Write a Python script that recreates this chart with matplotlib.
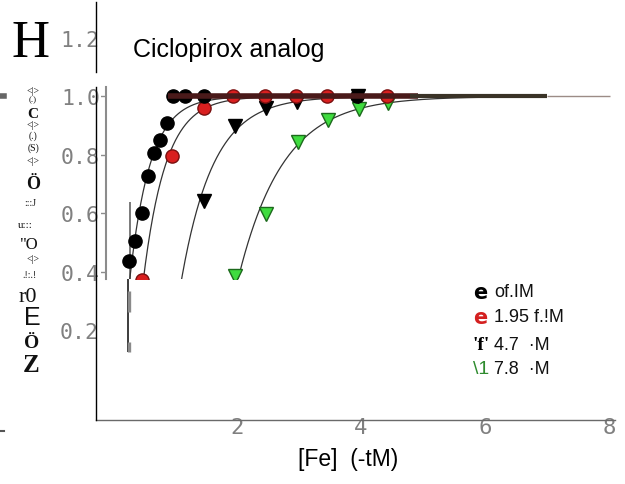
import numpy as np
import matplotlib
matplotlib.use("Agg")
import matplotlib.pyplot as plt
from matplotlib.lines import Line2D

W, H = 625, 485

# ---- data -------------------------------------------------------------
fe_ticks = [2, 4, 6, 8]
fe_tick_labels = ["2", "4", "6", "8"]
upper_ticks = [0.4, 0.6, 0.8, 1.0]
upper_tick_labels = ["0.4", "0.6", "0.8", "1.0"]
lower_ticks = [0.2, 1.2]
lower_tick_labels = ["0.2", "1.2"]

# fraction vs [Fe] for each series
fe0_x = [0.26, 0.35, 0.46, 0.57, 0.66, 0.76, 0.87, 0.96, 1.16, 1.46, 3.93]
fe0_y = [0.436, 0.504, 0.601, 0.729, 0.806, 0.851, 0.909, 1.0, 1.0, 1.0, 1.0]
fe195_x = [0.46, 0.95, 1.46, 1.94, 2.45, 2.95, 3.45, 4.42]
fe195_y = [0.37, 0.795, 0.96, 1.0, 1.0, 1.0, 1.0, 1.0]
fe47_x = [1.47, 1.97, 2.46, 2.96, 3.95]
fe47_y = [0.643, 0.898, 0.96, 0.98, 1.0]
fe178_x = [1.96, 2.47, 2.98, 3.46, 3.96, 4.44]
fe178_y = [0.386, 0.598, 0.843, 0.92, 0.957, 0.978]

# plateau line at 1.0, drawn in three pieces
plateau_level = 1.0
plateau_x = [(0.89, 4.92), (4.79, 7.0), (7.0, 8.02)]
plateau_colors = ["#4a1a1a", "#3a3327", "#9c8c86"]
plateau_widths = [4.0, 3.0, 1.0]

# vertical bars near the first points
vbar_upper_x, vbar_upper_y = 0.274, (0.375, 0.639)
vbar_lower_x, vbar_lower_y = 0.237, (0.124, 0.375)
vbar_thick_x = 0.266
vbar_thick_y = [(0.262, 0.334), (0.125, 0.159)]

legend_rows = [
    ("e", "#000000", "of.IM", 293, "DejaVu Sans", "bold", 15),
    ("e", "#d42020", "1.95 f.!M", 318, "DejaVu Sans", "bold", 15),
    ("'f'", "#000000", "4.7  \u00b7M", 345, "Liberation Serif", "bold", 14),
    ("\\1", "#2e8b2e", "7.8  \u00b7M", 370, "Liberation Sans", "normal", 14),
]

side_glyphs = [
    ("<|>", 33, 91, 7, "normal", "Liberation Serif"),
    ("(.)", 33, 100.5, 6.5, "normal", "Liberation Serif"),
    ("C", 33, 114, 11, "bold", "Liberation Serif"),
    ("<|>", 33, 125, 7, "normal", "Liberation Serif"),
    ("(.)", 33, 136, 7, "normal", "Liberation Serif"),
    ("(S)", 33, 148, 7, "normal", "Liberation Serif"),
    ("<|>", 33, 162, 7, "normal", "Liberation Serif"),
    ("\u00d6", 33, 185, 13, "bold", "Liberation Serif"),
    (":::J", 30, 203, 7, "normal", "Liberation Serif"),
    ("u:::", 25, 226, 8, "normal", "Liberation Serif"),
    ('"O', 29, 245, 12, "normal", "Liberation Serif"),
    ("<|>", 33, 259, 7, "normal", "Liberation Serif"),
    (".!:.!", 29, 276, 7, "normal", "Liberation Serif"),
    ("r0", 28, 297, 16, "normal", "Liberation Serif"),
    ("E", 32, 318, 18, "normal", "Liberation Sans"),
    ("\u00d6", 32, 344, 14, "bold", "Liberation Serif"),
    ("Z", 31, 366, 18, "bold", "Liberation Serif"),
]


def fx(px):
    return px / W


def fy(py):
    return 1 - py / H


def exp_fit(x, y):
    """Least-squares fit of y = 1 - exp(-k (x - x0)) on the sub-plateau points."""
    x = np.asarray(x, float)
    y = np.asarray(y, float)
    m = y < 0.99
    slope, icpt = np.polyfit(x[m], np.log(1 - y[m]), 1)
    x_lo = (np.log(1 - 0.2) - icpt) / slope
    x_hi = (np.log(1 - 0.999) - icpt) / slope
    xs = np.linspace(x_lo, x_hi, 300)
    return xs, 1 - np.exp(slope * xs + icpt)


fig = plt.figure(figsize=(W / 100, H / 100), dpi=100)
fig.patch.set_facecolor("white")

tick_font = dict(family="DejaVu Sans Mono", color="#808080")

# ---- main axes --------------------------------------------------------
ax = fig.add_axes([fx(95.5), fy(421), (615 - 95.5) / W, (421 - 3) / H])
ax.set_xlim(-0.282, 8.097)
ax.set_ylim(-0.108, 1.3236)
ax.set_facecolor("white")
for s in ("top", "right", "left"):
    ax.spines[s].set_visible(False)
ax.spines["bottom"].set_color("#6a6a6a")
ax.spines["bottom"].set_linewidth(1.0)
ax.set_xticks(fe_ticks)
ax.set_xticklabels(fe_tick_labels, fontsize=16, **tick_font)
ax.tick_params(axis="x", length=0, pad=-2.4)
ax.set_yticks(lower_ticks)
ax.set_yticklabels(lower_tick_labels, fontsize=15.5, **tick_font)
ax.tick_params(axis="y", length=0, pad=-2.6)
ax.get_yticklabels()[0].set_bbox(dict(facecolor="white", edgecolor="none", pad=0.5))

# left axis line, drawn in two pieces
fig.add_artist(Line2D([fx(95.5), fx(95.5)], [fy(3), fy(73)], color="black", lw=1.0, zorder=0.5))
fig.add_artist(Line2D([fx(95.5), fx(95.5)], [fy(88), fy(421)], color="black", lw=1.0, zorder=0.5))

ax.vlines(vbar_lower_x, *vbar_lower_y, color="#3c3c3c", lw=1.4)
for y0, y1 in vbar_thick_y:
    ax.vlines(vbar_thick_x, y0, y1, color="#8a8a8a", lw=2.4)

# ---- upper panel ------------------------------------------------------
pn = fig.add_axes([fx(106), fy(280), (615 - 106) / W, (280 - 88) / H])
pn.set_xlim(-0.113, 8.097)
pn.set_ylim(0.375, 1.0325)
pn.set_facecolor("white")
for s in ("top", "right", "bottom"):
    pn.spines[s].set_visible(False)
pn.spines["left"].set_color("#8c8c8c")
pn.spines["left"].set_linewidth(1.5)
pn.set_xticks([])
pn.set_yticks(upper_ticks)
pn.set_yticklabels(upper_tick_labels, fontsize=15.5, **tick_font)
pn.tick_params(axis="y", length=4, width=1.0, color="#8c8c8c", pad=0.3)
for lbl in pn.get_yticklabels():
    lbl.set_bbox(dict(facecolor="white", edgecolor="none", pad=0.5))

pn.vlines(vbar_upper_x, *vbar_upper_y, color="#7a7a7a", lw=1.4, zorder=1)

for xs, ys in ((fe0_x, fe0_y), (fe195_x, fe195_y), (fe47_x, fe47_y), (fe178_x, fe178_y)):
    cx, cy = exp_fit(xs, ys)
    pn.plot(cx, cy, color="#333333", lw=0.9, zorder=2)

pn.plot(fe178_x, fe178_y, "v", ms=10.5, mfc="#3fdc3f", mec="#1c6a1c", mew=1.0, zorder=3)
pn.plot(fe47_x, fe47_y, "v", ms=10.5, mfc="black", mec="black", zorder=3)
pn.plot(fe195_x, fe195_y, "o", ms=9.5, mfc="#d91f1f", mec="#7a1010", mew=1.0, zorder=3)
pn.plot(fe0_x, fe0_y, "o", ms=9.5, mfc="black", mec="black", zorder=3)

for (x0, x1), c, w in zip(plateau_x, plateau_colors, plateau_widths):
    pn.plot([x0, x1], [plateau_level, plateau_level], color=c, lw=w,
            solid_capstyle="butt", zorder=4)

# ---- texts ------------------------------------------------------------
fig.text(fx(12), fy(57), "H", fontsize=38, family="Liberation Serif",
         ha="left", va="baseline")
fig.text(fx(133), fy(56.5), "Ciclopirox analog", fontsize=18,
         family="Liberation Sans", ha="left", va="baseline")
fig.text(fx(348), fy(460), "[Fe]  (-tM)", fontsize=16.5, family="Liberation Sans",
         ha="center", va="center")

for sym, col, txt, py, fam, wt, sz in legend_rows:
    fig.text(fx(473), fy(py), sym, color=col, fontsize=sz, family=fam,
             weight=wt, ha="left", va="center")
    fig.text(fx(494), fy(py), txt, color="#111111", fontsize=13,
             family="Liberation Sans", ha="left", va="center")

for t, px, py, size, wt, fam in side_glyphs:
    fig.text(fx(px), fy(py), t, fontsize=size, weight=wt, family=fam,
             ha="center", va="center", color="#111111")

# small edge marks
fig.add_artist(Line2D([fx(0), fx(4)], [fy(97), fy(97)], color="#666666", lw=4))
fig.add_artist(Line2D([fx(0), fx(4)], [fy(432), fy(432)], color="#555555", lw=1.5))

fig.savefig("out.png", dpi=100, facecolor="white")
